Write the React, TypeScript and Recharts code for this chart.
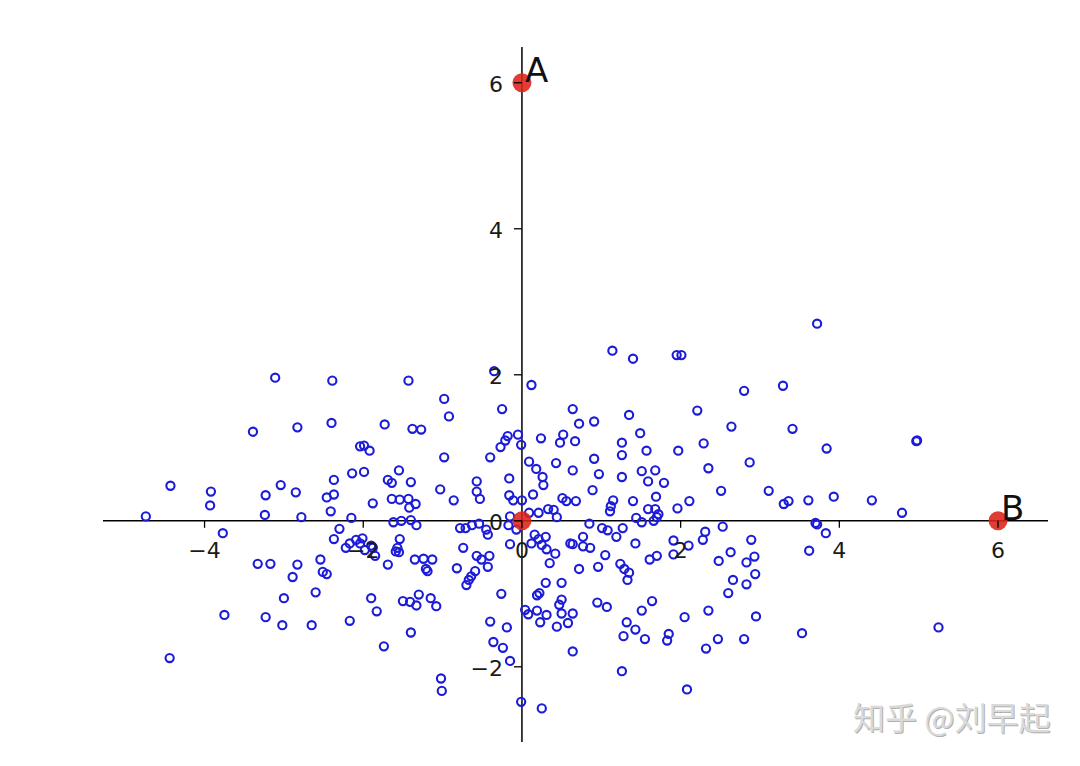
import { ScatterChart, Scatter, XAxis, YAxis, ReferenceLine, ReferenceDot } from 'recharts';

type Pt = [number, number];

// random cloud
const farLeftUpper: Pt[] = [
  [-3.11, 1.96], [-2.39, 1.92], [-3.39, 1.22], [-2.83, 1.28], [-2.4, 1.34], [-4.43, 0.48],
  [-3.92, 0.4], [-3.93, 0.21], [-3.04, 0.49], [-3.23, 0.35], [-2.85, 0.39], [-2.37, 0.56],
  [-2.46, 0.32], [-2.37, 0.36], [-2.41, 0.13], [-3.24, 0.08], [-2.78, 0.05], [-4.74, 0.06],
];

const nearLeftUpper: Pt[] = [
  [-1.43, 1.92], [-0.98, 1.67], [-0.92, 1.43], [-0.25, 1.53], [0.12, 1.86], [-0.35, 2.05],
  [-1.73, 1.32], [-1.38, 1.26], [-1.27, 1.25], [-0.18, 1.16], [-0.05, 1.18], [-0.21, 1.1],
  [-0.27, 1.01], [-0.01, 1.04], [0.24, 1.13], [-2.04, 1.02], [-1.99, 1.03], [-1.92, 0.96],
  [-0.98, 0.87], [-0.4, 0.87], [0.09, 0.81], [0.18, 0.71], [0.26, 0.6], [0.27, 0.49],
  [-2.14, 0.65], [-1.99, 0.67], [-1.55, 0.69], [-1.69, 0.56], [-1.64, 0.52], [-1.4, 0.53],
  [-1.03, 0.43], [-0.57, 0.54], [-0.57, 0.4], [-0.53, 0.3], [-0.16, 0.58], [-0.16, 0.35],
  [-0.11, 0.28], [0.0, 0.28], [0.14, 0.36], [-1.88, 0.24], [-1.64, 0.3], [-1.54, 0.29],
  [-1.43, 0.3], [-1.34, 0.23], [-1.42, 0.18], [-0.86, 0.28],
  [-2.15, 0.04], [-1.62, -0.02], [-1.52, 0.0], [-1.4, 0.01], [-1.33, -0.06], [-2.3, -0.11],
];

const centerUpper: Pt[] = [
  [0.72, 1.33], [0.91, 1.36], [0.52, 1.18], [0.48, 1.07], [0.67, 1.09], [1.49, 1.2],
  [1.26, 1.07], [1.57, 0.96], [1.26, 0.9], [0.43, 0.79], [0.64, 0.69], [0.91, 0.85],
  [0.97, 0.64], [1.51, 0.68], [1.68, 0.69], [1.26, 0.6], [1.59, 0.54], [0.89, 0.42],
  [0.51, 0.31], [0.56, 0.27], [0.68, 0.27], [1.15, 0.28], [1.12, 0.2], [1.11, 0.13],
  [1.4, 0.27], [1.69, 0.33], [1.59, 0.16], [1.68, 0.16], [0.33, 0.16], [0.4, 0.15],
  [0.21, 0.11], [0.09, 0.11], [0.44, 0.05], [-0.15, 0.06], [1.44, 0.04],
];

const rightUpper: Pt[] = [
  [1.14, 2.33], [1.4, 2.22], [1.95, 2.27], [2.01, 2.27], [2.8, 1.78], [0.64, 1.53],
  [1.35, 1.45], [2.21, 1.51], [2.64, 1.29], [1.97, 0.96], [2.29, 1.06], [2.87, 0.8],
  [1.79, 0.52], [2.35, 0.72], [2.51, 0.41], [1.72, 0.09], [1.96, 0.17], [2.11, 0.27],
  [3.72, 2.7], [3.29, 1.85], [3.41, 1.26], [3.84, 0.99], [4.97, 1.09], [4.98, 1.1],
  [3.11, 0.41], [3.3, 0.23], [3.36, 0.27], [3.61, 0.28], [3.93, 0.33], [4.41, 0.28],
  [4.79, 0.11],
];

const centerLower: Pt[] = [
  [1.51, -0.02], [0.85, -0.04], [1.01, -0.1], [1.08, -0.13], [1.27, -0.1], [1.19, -0.22],
  [-0.78, -0.1], [-0.71, -0.1], [-0.63, -0.06], [-0.54, -0.04], [-0.45, -0.12], [-0.43, -0.19],
  [-0.17, -0.06], [-0.07, -0.12], [0.16, -0.19], [0.21, -0.25], [0.3, -0.22], [0.12, -0.31],
  [0.25, -0.33], [0.31, -0.39], [0.42, -0.45], [0.35, -0.58], [-0.15, -0.32], [-0.74, -0.37],
  [0.61, -0.31], [0.64, -0.32], [0.77, -0.22], [0.77, -0.35], [0.86, -0.37], [1.05, -0.47],
  [1.43, -0.31], [1.61, -0.53], [1.7, -0.48], [1.24, -0.59], [1.29, -0.66], [1.35, -0.71],
  [1.33, -0.81], [0.96, -0.63], [0.72, -0.66], [0.5, -0.85], [0.3, -0.85], [-0.26, -1.0],
  [-0.57, -0.48], [-0.51, -0.53], [-0.41, -0.48], [-0.43, -0.63], [-0.82, -0.65], [-0.59, -0.69],
  [-0.64, -0.76], [-0.67, -0.81], [-0.7, -0.88], [0.19, -1.02], [0.22, -0.99], [0.04, -1.22],
  [0.08, -1.28], [0.19, -1.23], [0.23, -1.39], [0.31, -1.29], [-0.4, -1.38], [-0.19, -1.46],
  [-0.36, -1.66], [-0.24, -1.74], [-0.15, -1.92], [-0.01, -2.48], [0.25, -2.57],
];

const leftLower: Pt[] = [
  [-2.22, -0.37], [-2.17, -0.31], [-2.09, -0.26], [-2.01, -0.24], [-2.04, -0.31], [-1.98, -0.4],
  [-1.9, -0.34], [-1.85, -0.48], [-1.88, -0.37], [-1.54, -0.25], [-1.57, -0.37], [-1.59, -0.42],
  [-1.55, -0.43], [-1.69, -0.6], [-1.35, -0.53], [-1.24, -0.52], [-1.13, -0.53], [-1.21, -0.66],
  [-1.19, -0.69], [-1.9, -1.06], [-1.83, -1.24], [-2.17, -1.37], [-1.5, -1.1], [-1.41, -1.11],
  [-1.33, -1.16], [-1.3, -1.01], [-1.15, -1.06], [-1.08, -1.17], [-1.4, -1.53], [-1.74, -1.72],
  [-1.02, -2.16], [-1.01, -2.33],
  [-2.37, -0.25], [-3.77, -0.17], [-3.33, -0.59], [-3.17, -0.59], [-2.83, -0.6], [-2.89, -0.77],
  [-2.54, -0.53], [-2.51, -0.7], [-2.46, -0.73], [-2.6, -0.98], [-3.0, -1.06], [-3.75, -1.29],
  [-3.23, -1.32], [-3.02, -1.43], [-2.65, -1.43], [-4.44, -1.88],
];

const rightLower: Pt[] = [
  [1.66, 0.0], [1.7, 0.05], [1.91, -0.27], [2.1, -0.34], [2.28, -0.26], [2.31, -0.15],
  [2.53, -0.08], [2.89, -0.26], [2.63, -0.43], [2.93, -0.49], [2.83, -0.57], [2.48, -0.55],
  [1.91, -0.46], [2.66, -0.81], [2.83, -0.87], [2.94, -0.73], [2.6, -0.99], [2.95, -1.31],
  [2.35, -1.23], [2.05, -1.32], [1.64, -1.1], [1.51, -1.23], [0.95, -1.12], [1.07, -1.18],
  [1.32, -1.39], [1.43, -1.49], [1.28, -1.58], [1.55, -1.62], [1.85, -1.55], [1.83, -1.64],
  [2.47, -1.62], [2.32, -1.75], [2.8, -1.62], [0.5, -1.08], [0.47, -1.15], [0.5, -1.27],
  [0.64, -1.27], [0.58, -1.4], [0.44, -1.45], [0.64, -1.79], [1.26, -2.06], [2.08, -2.31],
  [3.7, -0.03], [3.72, -0.05], [3.83, -0.17], [3.62, -0.41], [3.53, -1.54], [5.25, -1.46],
];

const markedPoints = [
  { x: 0, y: 6, name: 'A' },
  { x: 6, y: 0, name: 'B' },
  { x: 0, y: 0, name: '' },
];

const xTicks = [-4, -2, 0, 2, 4, 6];
const yTicks = [-2, 0, 2, 4, 6];
const xDomain = [-5.28, 6.63];
const yDomain = [-3.03, 6.49];
const watermark = '知乎 @刘早起';

const cloud = [
  ...farLeftUpper, ...nearLeftUpper, ...centerUpper, ...rightUpper,
  ...centerLower, ...leftLower, ...rightLower,
].map(([x, y]) => ({ x, y }));

const FONT = '"DejaVu Sans", sans-serif';
const fmt = (v: number) => (v < 0 ? `\u2212${-v}` : `${v}`);

const ring = (p: any) => (
  <circle cx={p.cx} cy={p.cy} r={4.1} fill="none" stroke="#1c1cd8" strokeWidth={2.1} />
);

const bigDot = (p: any) => (
  <g>
    <circle cx={p.cx} cy={p.cy} r={9.5} fill="#dc2318" fillOpacity={0.88} />
    {p.payload?.name ? (
      <text x={p.cx + 3} y={p.cy - 1} fontSize={34} fontFamily={FONT} fill="#111">
        {p.payload.name}
      </text>
    ) : null}
  </g>
);

const xTick = (t: number) => (p: any) => (
  <g>
    <line x1={p.cx} y1={p.cy} x2={p.cx} y2={p.cy + 7} stroke="#000" strokeWidth={1.3} />
    <text x={p.cx} y={p.cy + 37} textAnchor="middle" fontSize={22} fontFamily={FONT} fill="#1a1a1a">
      {fmt(t)}
    </text>
  </g>
);

const yTick = (t: number) => (p: any) => (
  <g>
    <line x1={p.cx} y1={p.cy} x2={p.cx - 8} y2={p.cy} stroke="#000" strokeWidth={1.3} />
    <text x={p.cx - 19} y={p.cy + 9} textAnchor="end" fontSize={22} fontFamily={FONT} fill="#1a1a1a">
      {fmt(t)}
    </text>
  </g>
);

export default function App() {
  return (
    <div style={{ position: 'absolute', left: 0, top: 0, width: 1080, height: 766, background: '#fff' }}>
      <ScatterChart width={1080} height={766} margin={{ top: 47, right: 32, bottom: 24, left: 103 }}>
        <XAxis type="number" dataKey="x" domain={xDomain} allowDataOverflow hide />
        <YAxis type="number" dataKey="y" domain={yDomain} allowDataOverflow hide />
        <Scatter data={cloud} shape={ring} isAnimationActive={false} />
        <Scatter data={markedPoints} shape={bigDot} isAnimationActive={false} />
        <ReferenceLine y={0} stroke="#000" strokeWidth={1.5} />
        <ReferenceLine x={0} stroke="#000" strokeWidth={1.5} />
        {xTicks.map((t) => (
          <ReferenceDot key={`x${t}`} x={t} y={0} shape={xTick(t)} />
        ))}
        {yTicks.map((t) => (
          <ReferenceDot key={`y${t}`} x={0} y={t} shape={yTick(t)} />
        ))}
      </ScatterChart>
      <div
        style={{
          position: 'absolute',
          left: 853,
          top: 700,
          fontSize: 32,
          lineHeight: 1,
          fontFamily: '"Noto Sans CJK SC", sans-serif',
          color: '#dadada',
          textShadow: '1px 1px 0 #b0b0b0',
          whiteSpace: 'nowrap',
        }}
      >
        {watermark}
      </div>
    </div>
  );
}
